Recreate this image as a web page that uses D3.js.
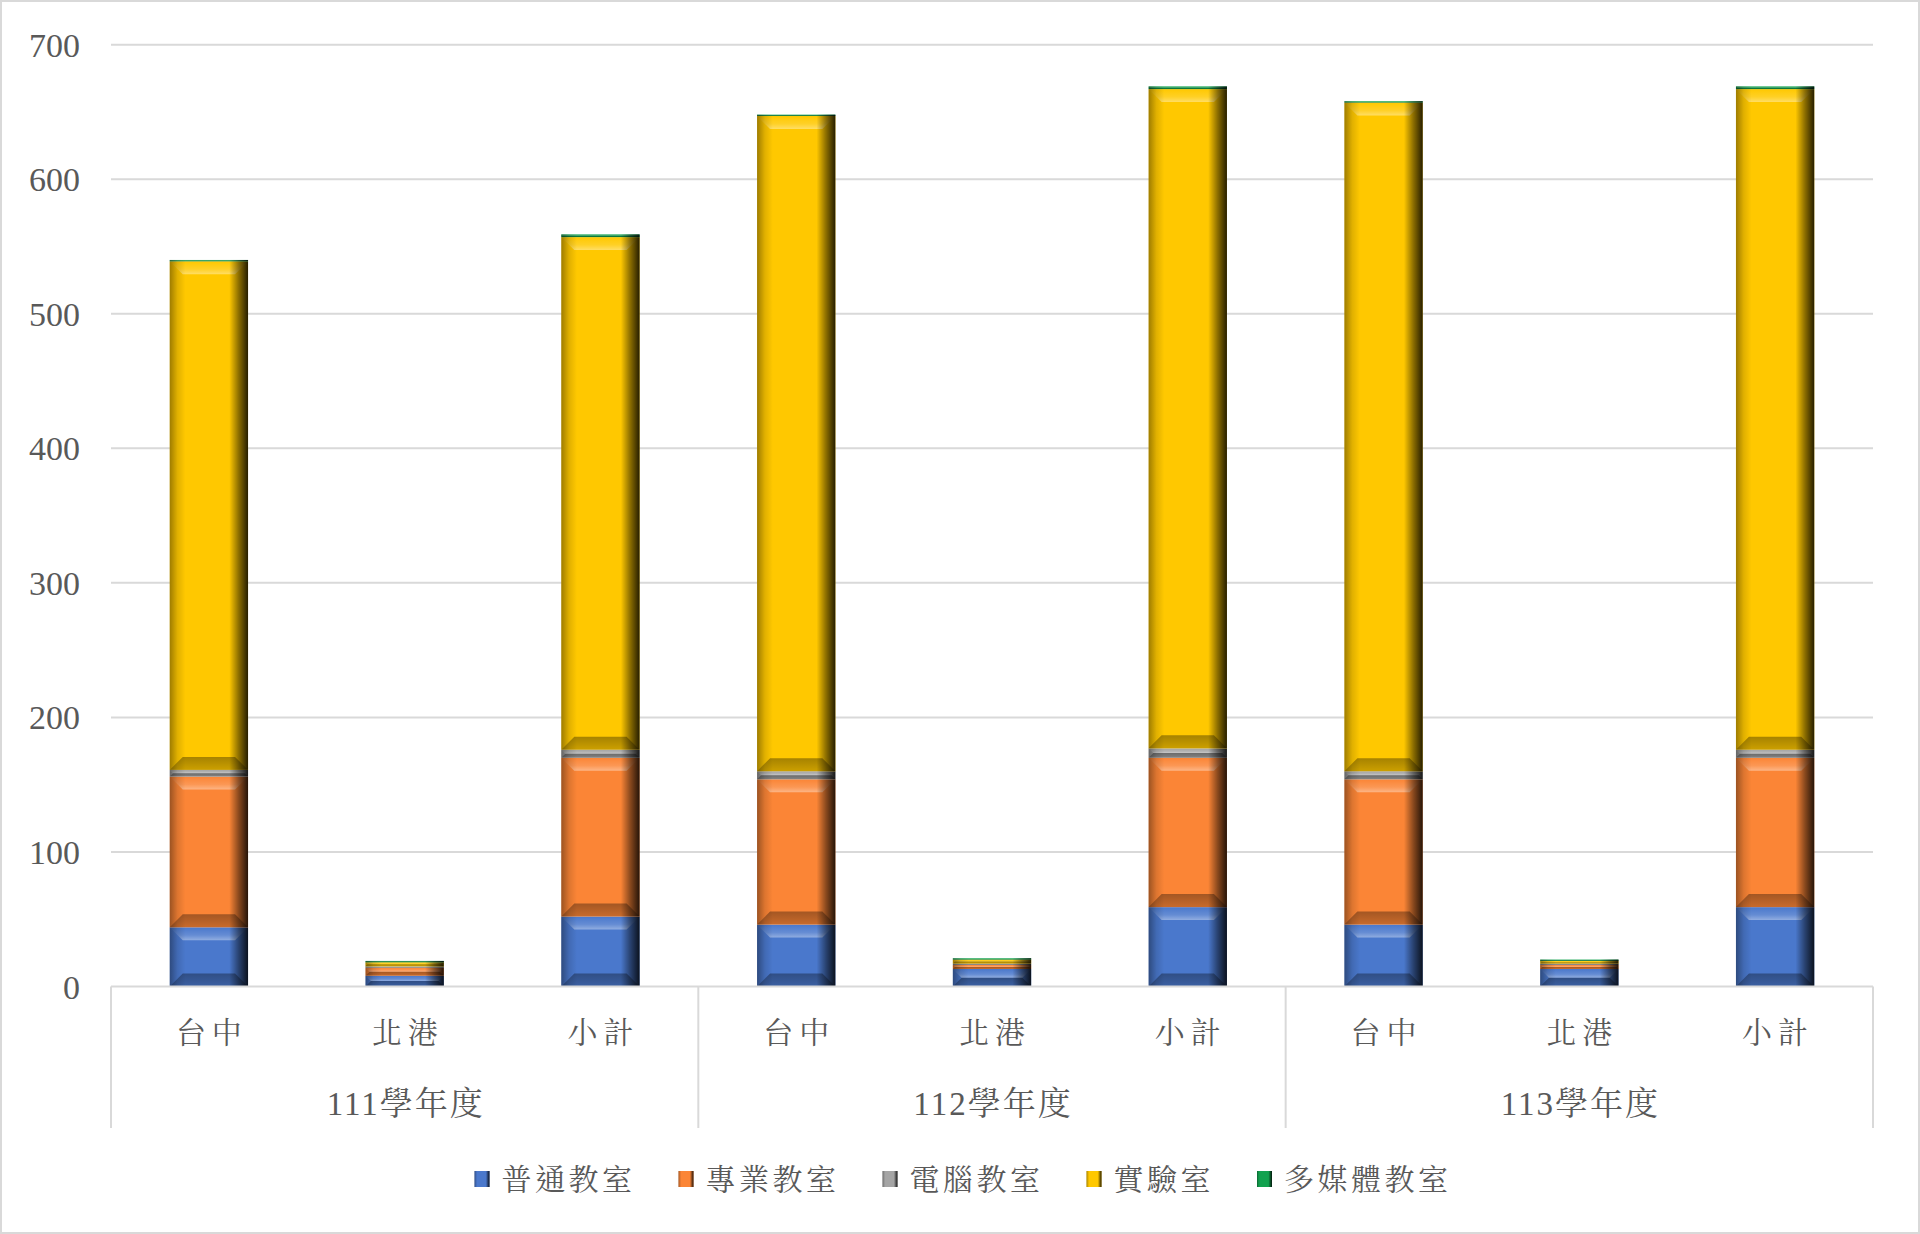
<!DOCTYPE html>
<html>
<head>
<meta charset="utf-8">
<script src="https://cdn.jsdelivr.net/npm/d3@7"></script>
<style>
  html, body { margin: 0; padding: 0; background: #fff; }
  svg { display: block; }
  text { font-family: 'Liberation Serif', 'Noto Serif CJK TC', 'Noto Sans CJK TC', serif; fill: #595959; }
</style>
</head>
<body>
<svg id="chart" width="1920" height="1234"></svg>
<script>
// ---- data ----
const years = ["111學年度", "112學年度", "113學年度"];
const sites = ["台中", "北港", "小計"];
const seriesNames = ["普通教室", "專業教室", "電腦教室", "實驗室", "多媒體教室"];
const general    = [44, 8, 52, 46, 13, 59, 46, 13, 59];
const specialty  = [112, 6, 118, 108, 3, 111, 108, 3, 111];
const computer   = [5, 1, 6, 6, 1, 7, 6, 1, 6];
const lab        = [378, 3, 381, 487, 3, 490, 497, 2, 491];
const multimedia = [1, 1, 2, 1, 1, 2, 1, 1, 2];
const yTicks = [0, 100, 200, 300, 400, 500, 600, 700];
const colors = ["#4a78cc", "#fb8536", "#a5a5a5", "#ffc800", "#12a24f"];

// ---- build table ----
const seriesValues = [general, specialty, computer, lab, multimedia];
const rows = [];
years.forEach((yr, yi) => sites.forEach((s, si) => {
  const idx = yi * sites.length + si;
  const r = { key: yr + "|" + s, year: yr, site: s };
  seriesNames.forEach((n, k) => r[n] = seriesValues[k][idx]);
  rows.push(r);
}));

(function draw() {
const svg = d3.select("#chart");
const W = 1920, H = 1234;
const pL = 111, pR = 1873, pT = 44.7, pB = 986.5;

svg.append("rect").attr("x", 1).attr("y", 1).attr("width", W - 2).attr("height", H - 2)
  .attr("fill", "#fff").attr("stroke", "#d9d9d9").attr("stroke-width", 2);

const x = d3.scaleBand().domain(rows.map(r => r.key)).range([pL, pR])
  .paddingInner(0.6).paddingOuter(0.3);
const y = d3.scaleLinear().domain([0, 700]).range([pB, pT]);

// defs: gradients
const defs = svg.append("defs");
const side = defs.append("linearGradient").attr("id", "side").attr("x1", 0).attr("x2", 1).attr("y1", 0).attr("y2", 0);
[[0, "#000", 0.38], [0.1, "#000", 0.12], [0.2, "#000", 0], [0.76, "#000", 0], [0.88, "#000", 0.45], [1, "#000", 0.85]]
  .forEach(([o, c, a]) => side.append("stop").attr("offset", o).attr("stop-color", c).attr("stop-opacity", a));
const topG = defs.append("linearGradient").attr("id", "topbev").attr("x1", 0).attr("x2", 0).attr("y1", 0).attr("y2", 1);
[[0, "#fff", 0.0], [0.6, "#fff", 0.15], [1, "#fff", 0.4]]
  .forEach(([o, c, a]) => topG.append("stop").attr("offset", o).attr("stop-color", c).attr("stop-opacity", a));
const botG = defs.append("linearGradient").attr("id", "botbev").attr("x1", 0).attr("x2", 0).attr("y1", 0).attr("y2", 1);
[[0, "#000", 0.35], [1, "#000", 0.2]]
  .forEach(([o, c, a]) => botG.append("stop").attr("offset", o).attr("stop-color", c).attr("stop-opacity", a));

// gridlines
svg.append("g").selectAll("line").data(yTicks.filter(t => t > 0)).join("line")
  .attr("x1", pL).attr("x2", pR).attr("y1", d => y(d)).attr("y2", d => y(d))
  .attr("stroke", "#d9d9d9").attr("stroke-width", 2);

// y axis labels
const yAxis = d3.axisLeft(y).tickValues(yTicks).tickSize(0).tickPadding(0);
const ya = svg.append("g").attr("transform", `translate(80,0)`).call(yAxis);
ya.select(".domain").remove();
ya.selectAll("text").attr("font-size", 34).attr("fill", "#595959")
  .style("font-family", "'Liberation Serif', serif").attr("dy", "0.34em");

// stacked bars
const stack = d3.stack().keys(seriesNames)(rows);
const gBars = svg.append("g");
stack.forEach((layer, k) => {
  layer.forEach(seg => {
    const x0 = x(seg.data.key), w = x.bandwidth();
    const y0 = y(seg[1]), y1 = y(seg[0]);
    const h = y1 - y0;
    if (h <= 0) return;
    const b = Math.min(13, h / 2, w / 2);
    const g = gBars.append("g");
    g.append("rect").attr("x", x0).attr("y", y0).attr("width", w).attr("height", h).attr("fill", colors[k]);
    g.append("polygon").attr("points", [[x0, y0], [x0 + w, y0], [x0 + w - b, y0 + b], [x0 + b, y0 + b]].map(p => p.join(",")).join(" "))
      .attr("fill", "url(#topbev)");
    g.append("polygon").attr("points", [[x0 + b, y1 - b], [x0 + w - b, y1 - b], [x0 + w, y1], [x0, y1]].map(p => p.join(",")).join(" "))
      .attr("fill", "url(#botbev)");
    g.append("rect").attr("x", x0).attr("y", y0).attr("width", w).attr("height", h).attr("fill", "url(#side)");
  });
});

// baseline
svg.append("line").attr("x1", pL).attr("x2", pR).attr("y1", pB).attr("y2", pB)
  .attr("stroke", "#d9d9d9").attr("stroke-width", 2);

// group separators
const groupW = (pR - pL) / years.length;
const seps = d3.range(years.length + 1).map(i => pL + i * groupW);
svg.append("g").selectAll("line").data(seps).join("line")
  .attr("x1", d => d).attr("x2", d => d).attr("y1", pB).attr("y2", 1128)
  .attr("stroke", "#d9d9d9").attr("stroke-width", 2);

// category labels
svg.append("g").selectAll("text").data(rows).join("text")
  .attr("x", d => x(d.key) + x.bandwidth() / 2 + 3).attr("y", 1032).attr("dy", "0.36em")
  .attr("text-anchor", "middle").attr("font-size", 30).attr("letter-spacing", 6)
  .text(d => d.site);

// year labels
svg.append("g").selectAll("text").data(years).join("text")
  .attr("x", (d, i) => pL + (i + 0.5) * groupW + 1).attr("y", 1103).attr("dy", "0.36em")
  .attr("text-anchor", "middle").attr("font-size", 33).attr("letter-spacing", 2)
  .text(d => d);

// legend
const lg = svg.append("g");
let cx = 0;
seriesNames.forEach((n, k) => {
  const it = lg.append("g");
  it.append("rect").attr("x", 0).attr("y", -8).attr("width", 15).attr("height", 16).attr("fill", colors[k]);
  it.append("rect").attr("x", 0).attr("y", -8).attr("width", 15).attr("height", 16).attr("fill", "url(#side)");
  const t = it.append("text").attr("x", 27).attr("y", 0).attr("dy", "0.36em")
    .attr("font-size", 30).attr("letter-spacing", 3.5).text(n);
  const tw = t.node().getComputedTextLength();
  it.attr("transform", `translate(${cx},1179)`);
  cx += 27 + tw + 43;
});
const total = cx - 43;
lg.attr("transform", `translate(${963 - total / 2},0)`);
})();
</script>
</body>
</html>
